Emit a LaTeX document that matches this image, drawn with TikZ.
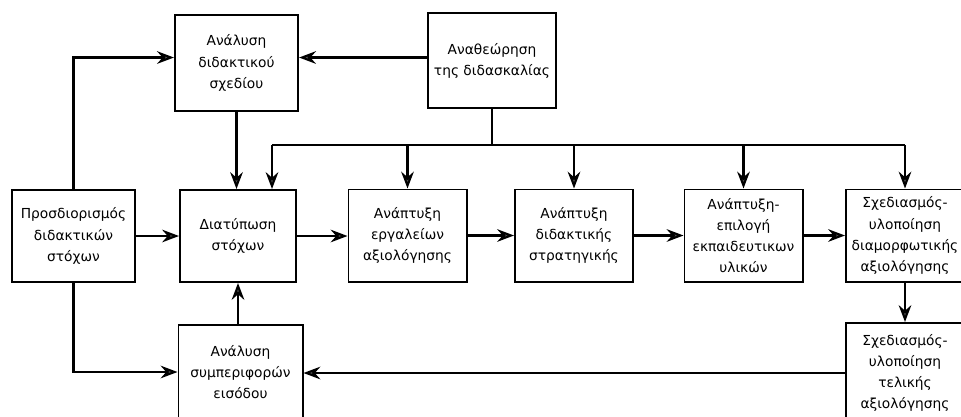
\documentclass[tikz,border=0pt]{standalone}
\usepackage{fontspec}
\setmainfont{DejaVu Sans}
\usetikzlibrary{arrows.meta}

\begin{document}
\begin{tikzpicture}[x=0.025cm,y=-0.025cm,
  box/.style={draw,line width=1.4pt,align=center,minimum width=2.95cm,minimum height=2.3cm,inner sep=1pt,font=\fontsize{9.8}{15}\selectfont},
  arr/.style={line width=1.5pt,-{Stealth[length=12pt,width=9pt,inset=4pt,fill=tipgray]}},
  bar/.style={line width=1.5pt}]
\definecolor{tipgray}{HTML}{555555}
\useasboundingbox (0,0) rectangle (961,416);
\clip (0,0) rectangle (961,416);
\fill[white] (0,0) rectangle (961,416);
\node[box,minimum width=3.08cm,minimum height=2.38cm] (A) at (236.5,63) {Ανάλυση\\διδακτικού\\σχεδίου};
\node[box,minimum width=3.2cm,minimum height=2.38cm] (R) at (492,60.5) {Αναθεώρηση\\της διδασκαλίας};
\node[box,minimum width=3.08cm] (P) at (73.5,236) {Προσδιορισμός\\διδακτικών\\στόχων};
\node[box,minimum width=2.9cm] (D) at (238,236) {Διατύπωση\\στόχων};
  \foreach \nm/\pos/\txt in {E/407.5/{Ανάπτυξη\\εργαλείων\\αξιολόγησης},S/574/{Ανάπτυξη\\διδακτικής\\στρατηγικής},M/743.5/{Ανάπτυξη-\\επιλογή\\εκπαιδευτικων\\υλικών}}
  {  \node[box] (\nm) at (\pos,235.5) {\txt};}
\node[box] (F) at (905,235.5) {Σχεδιασμός-\\υλοποίηση\\διαμορφωτικής\\αξιολόγησης};
\node[box,minimum height=2.5cm] (T) at (905,373) {Σχεδιασμός-\\υλοποίηση\\τελικής\\αξιολόγησης};
\node[box,minimum width=3.1cm,minimum height=2.35cm] (B) at (240.5,372) {Ανάλυση\\συμπεριφορών\\εισόδου};
\coordinate (bus) at (0,145);
\coordinate (Dtop) at ([xshift=0.85cm]D.north);
\draw[arr] (P.north) |- (A.175);
\draw[arr] (R.west |- A.5) -- (A.5);
\draw[arr] (A.south) -- (A.south |- D.north);
\draw[bar] (R.south) -- (R.south |- bus);
\draw[bar] (Dtop |- bus) -- (F.north |- bus);
\draw[arr] (Dtop |- bus) -- (Dtop);
  \foreach \nm in {E,S,M,F}
  {  \draw[arr] (\nm.north |- bus) -- (\nm.north);}
  \foreach \a/\b in {P/D,D/E,E/S,S/M,M/F}
  {  \draw[arr] (\a.east) -- (\a.east -| \b.west);}
\draw[arr] (F.south) -- (T.north);
\draw[arr] (D.south |- B.north) -- (D.south);
\draw[arr] (P.south) |- (B.west);
\draw[arr] (T.west) -- (T.west -| B.east);
\end{tikzpicture}
\end{document}
